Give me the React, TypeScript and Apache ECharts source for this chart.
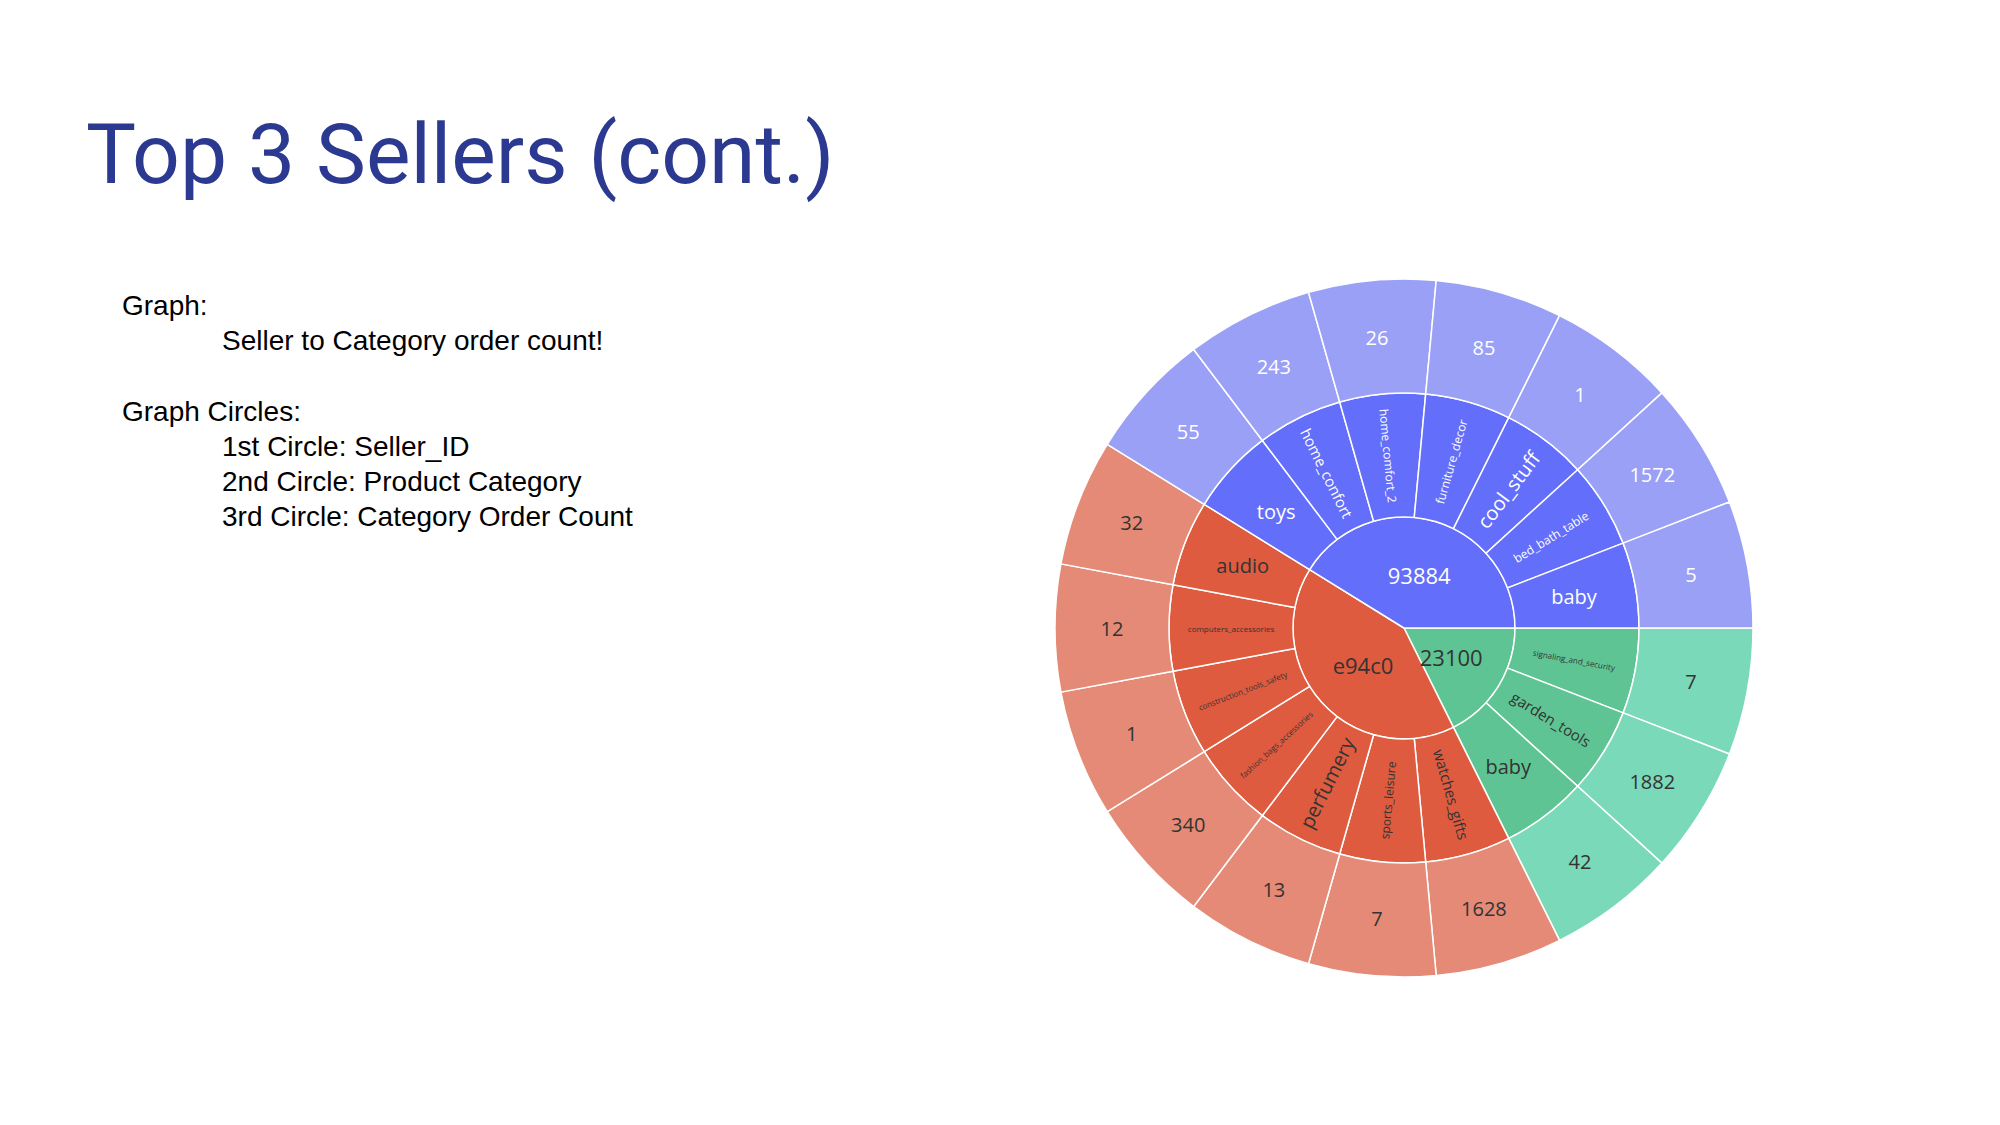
import { useEffect, useRef } from 'react'
import * as echarts from 'echarts'

// order is clockwise starting from east
const sellers = ['23100', 'e94c0', '93884']
const sellerColors = ['#5fc493', '#de5b3f', '#636efa']
const leafColors = ['#7ad9b8', '#e48a76', '#9aa0f6']
const sellerTextColors = ['#333', '#333', '#fff']

const categories: string[][] = [
  ['signaling_and_security', 'garden_tools', 'baby'],
  ['watches_gifts', 'sports_leisure', 'perfumery', 'fashion_bags_accessories', 'construction_tools_safety', 'computers_accessories', 'audio'],
  ['toys', 'home_confort', 'home_comfort_2', 'furniture_decor', 'cool_stuff', 'bed_bath_table', 'baby'],
]
const orderCounts: number[][] = [
  [7, 1882, 42],
  [1628, 7, 13, 340, 1, 12, 32],
  [55, 243, 26, 85, 1, 1572, 5],
]

const catFont = (name: string) => (name.length > 20 ? 8 : name.length > 13 ? 12 : name.length > 10 ? 15 : 20)

export default function App() {
  const ref = useRef<HTMLDivElement>(null)

  useEffect(() => {
    if (!ref.current) return
    const chart = echarts.init(ref.current, undefined, { renderer: 'svg' })
    const data = sellers.map((s, i) => ({
      name: s,
      itemStyle: { color: sellerColors[i] },
      label: { color: sellerTextColors[i], fontSize: 22 },
      children: categories[i].map((c, j) => ({
        name: c,
        itemStyle: { color: sellerColors[i] },
        label: { color: sellerTextColors[i], fontSize: catFont(c), rotate: (c === 'toys' || c === 'baby' || c === 'audio') ? 0 : 'radial' },
        children: [
          {
            name: String(orderCounts[i][j]),
            value: 1,
            itemStyle: { color: leafColors[i] },
            label: { color: i === 2 ? '#fff' : '#333', fontSize: 20 },
          },
        ],
      })),
    }))
    chart.setOption({
      animation: false,
      series: [
        {
          type: 'sunburst',
          center: [1404, 628],
          radius: [0, 349],
          startAngle: 0,
          clockwise: true,
          sort: null,
          nodeClick: false,
          data,
          itemStyle: { borderColor: '#fff', borderWidth: 1.5 },
          label: { fontFamily: 'Open Sans', rotate: 0, minAngle: 0 },
          emphasis: { disabled: true },
          levels: [
            {},
            { r0: 0, r: 111 },
            { r0: 111, r: 235 },
            { r0: 235, r: 349 },
          ],
        },
      ],
    })
    return () => chart.dispose()
  }, [])

  const body = { position: 'absolute' as const, fontFamily: 'Arial, Liberation Sans, sans-serif', fontSize: 28, color: '#000', lineHeight: '35px' }
  return (
    <div style={{ position: 'fixed', left: 0, top: 0, width: 2000, height: 1125, background: '#fff', overflow: 'hidden' }}>
      <div style={{ position: 'absolute', left: 86, top: 105, fontFamily: 'Roboto, sans-serif', fontSize: 84, color: '#2b3990' }}>
        Top 3 Sellers (cont.)
      </div>
      <div style={{ ...body, left: 122, top: 288 }}>Graph:</div>
      <div style={{ ...body, left: 222, top: 323 }}>Seller to Category order count!</div>
      <div style={{ ...body, left: 122, top: 394 }}>Graph Circles:</div>
      <div style={{ ...body, left: 222, top: 429 }}>1st Circle: Seller_ID</div>
      <div style={{ ...body, left: 222, top: 464 }}>2nd Circle: Product Category</div>
      <div style={{ ...body, left: 222, top: 499 }}>3rd Circle: Category Order Count</div>
      <div ref={ref} style={{ position: 'absolute', left: 0, top: 0, width: 2000, height: 1125 }} />
    </div>
  )
}
